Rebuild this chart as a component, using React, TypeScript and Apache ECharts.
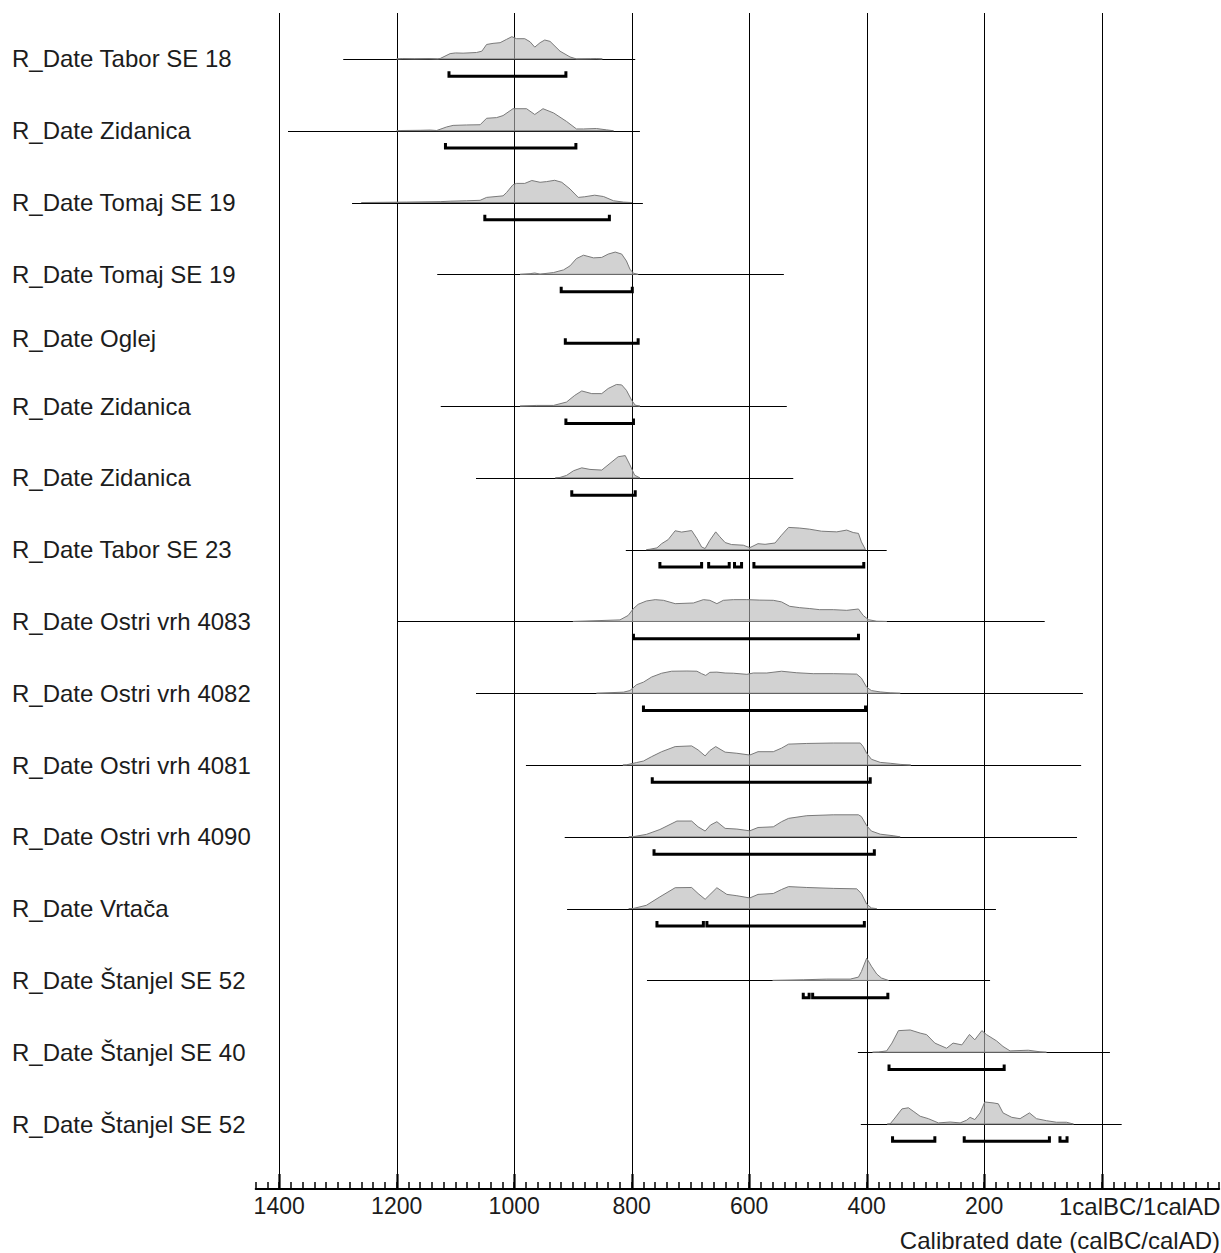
import React, { useEffect, useRef } from 'react';
import * as echarts from 'echarts';

// ---------- data (years: positive = calBC, negative = calAD) ----------
const rowLabels = [
  'R_Date Tabor SE 18',
  'R_Date Zidanica',
  'R_Date Tomaj SE 19',
  'R_Date Tomaj SE 19',
  'R_Date Oglej',
  'R_Date Zidanica',
  'R_Date Zidanica',
  'R_Date Tabor SE 23',
  'R_Date Ostri vrh 4083',
  'R_Date Ostri vrh 4082',
  'R_Date Ostri vrh 4081',
  'R_Date Ostri vrh 4090',
  'R_Date Vrtača',
  'R_Date Štanjel SE 52',
  'R_Date Štanjel SE 40',
  'R_Date Štanjel SE 52',
];

// extent of each row's horizontal base line [from, to]
const lineSpans: ([number, number] | null)[] = [
  [1291, 794], [1385, 786], [1276, 781], [1131, 541], null, [1125, 536], [1065, 525],
  [810, 366], [1199, 97], [1065, 32], [980, 35], [914, 42], [910, 180], [774, 190],
  [415, -14], [410, -34],
];

// 95.4% ranges (brackets) per row
const ranges: [number, number][][] = [
  [[1111, 912]],
  [[1117, 895]],
  [[1050, 838]],
  [[920, 799]],
  [[913, 789]],
  [[912, 797]],
  [[902, 794]],
  [[752, 681], [669, 634], [625, 613], [592, 405]],
  [[797, 414]],
  [[780, 402]],
  [[765, 394]],
  [[762, 387]],
  [[757, 678], [672, 404]],
  [[508, 498], [492, 364]],
  [[362, 166]],
  [[356, 284], [234, 89], [71, 59]],
];

// posterior probability curves: [year, relative height %]
const distTaborSE18 = [[1200,0],[1190,2],[1170,1],[1145,2],[1130,0],[1126,2],[1109,24],[1100,27],[1087,26],[1064,29],[1055,35],[1047,65],[1036,70],[1024,73],[1013,88],[1004,100],[996,91],[982,91],[973,77],[965,53],[956,73],[948,85],[939,79],[922,35],[905,9],[894,0],[870,1],[860,2],[850,0]];
const distZidanica1 = [[1200,0],[1194,1],[1160,2],[1143,3],[1132,1],[1115,17],[1104,24],[1081,26],[1058,27],[1047,56],[1030,59],[1019,68],[1002,99],[979,99],[965,73],[951,99],[933,80],[911,42],[894,8],[882,8],[860,10],[843,4],[831,0]];
const distTomaj1 = [[1260,0],[1183,2],[1126,4],[1109,6],[1081,8],[1058,10],[1047,23],[1019,30],[1013,45],[1002,80],[996,86],[982,86],[970,99],[956,91],[945,94],[931,100],[919,91],[905,61],[891,23],[880,26],[863,33],[848,27],[831,8],[814,2],[800,0]];
const distTomaj2 = [[990,0],[973,3],[965,6],[956,1],[933,8],[916,20],[905,38],[894,71],[882,86],[865,74],[851,76],[840,91],[828,100],[817,91],[809,60],[803,23],[797,5],[789,0]];
const distZidanica2 = [[990,0],[962,3],[933,3],[911,18],[897,48],[885,68],[868,56],[851,56],[840,79],[826,97],[817,95],[809,71],[800,26],[794,4],[786,0]];
const distZidanica3 = [[930,0],[922,2],[911,11],[899,32],[885,45],[871,38],[851,35],[837,65],[823,95],[811,100],[803,58],[795,12],[786,0]];
const distTaborSE23 = [[775,0],[769,2],[757,8],[749,27],[738,45],[726,85],[715,79],[698,86],[689,50],[681,12],[675,5],[667,42],[657,80],[650,58],[641,32],[630,23],[610,20],[599,9],[585,27],[573,24],[556,30],[545,65],[533,100],[514,97],[497,92],[477,83],[451,80],[434,88],[423,77],[414,73],[409,35],[402,0]];
const distOstri4083 = [[900,0],[854,4],[820,7],[806,27],[797,58],[789,77],[775,92],[760,98],[746,95],[726,80],[695,83],[678,98],[667,95],[655,80],[644,95],[627,98],[604,98],[582,96],[559,95],[545,88],[531,68],[514,62],[497,58],[480,53],[457,53],[434,50],[414,56],[406,27],[397,8],[383,1],[366,0]];
const distOstri4082 = [[860,0],[814,5],[803,12],[792,38],[780,50],[766,73],[749,90],[732,99],[706,100],[689,99],[681,88],[674,80],[667,94],[655,95],[641,91],[627,90],[604,85],[593,91],[570,91],[545,99],[519,92],[491,88],[457,88],[417,86],[409,68],[400,27],[392,12],[377,6],[360,2],[343,0]];
const distOstri4081 = [[815,0],[809,1],[792,11],[780,18],[766,38],[749,60],[726,83],[698,86],[687,68],[675,41],[667,65],[657,83],[641,58],[621,53],[599,45],[585,60],[559,60],[545,76],[533,94],[502,97],[457,99],[411,99],[406,83],[400,53],[392,26],[377,12],[360,8],[343,3],[325,0]];
const distOstri4090 = [[805,0],[797,1],[775,11],[752,33],[723,71],[698,71],[687,45],[675,26],[666,53],[655,68],[641,38],[621,35],[599,27],[585,42],[559,45],[545,68],[533,83],[502,95],[457,99],[414,99],[409,91],[400,50],[392,26],[377,12],[355,5],[343,0]];
const distVrtaca = [[805,0],[797,1],[775,15],[752,53],[726,94],[698,95],[687,68],[675,42],[655,94],[638,64],[621,58],[599,48],[585,64],[559,68],[545,86],[533,99],[502,95],[457,91],[417,89],[409,68],[400,20],[392,3],[383,0]];
const distStanjel52a = [[560,0],[508,3],[468,6],[428,6],[414,15],[409,40],[400,100],[392,64],[383,29],[375,11],[363,0]];
const distStanjel40 = [[390,0],[380,1],[366,6],[357,41],[346,97],[326,100],[309,86],[298,79],[284,41],[264,18],[253,41],[238,33],[225,80],[216,56],[204,97],[196,79],[179,51],[168,26],[156,6],[125,9],[105,2],[94,0]];
const distStanjel52b = [[365,0],[360,1],[352,27],[340,68],[329,73],[321,58],[309,35],[295,24],[278,5],[258,9],[241,5],[230,17],[224,30],[216,20],[207,50],[199,99],[185,95],[176,91],[168,50],[153,30],[139,24],[123,50],[111,24],[94,15],[77,8],[60,8],[48,0]];

const distributions: (number[][] | null)[] = [
  distTaborSE18, distZidanica1, distTomaj1, distTomaj2, null, distZidanica2, distZidanica3,
  distTaborSE23, distOstri4083, distOstri4082, distOstri4081, distOstri4090, distVrtaca,
  distStanjel52a, distStanjel40, distStanjel52b,
];

const majorTicks = [1400, 1200, 1000, 800, 600, 400, 200, 0];
const zeroLabel = '1calBC/1calAD';
const axisTitle = 'Calibrated date (calBC/calAD)';

// ---------- layout ----------
const FONT = "'Liberation Sans', Arial, Helvetica, sans-serif";
const TEXT_COLOR = '#1c1c1c';
const FIRST_BASE = 0.64; // row units
const DIST_H = 0.31; // row units for 100 %
const BRACKET_PX = 17.3;

function computeBaselines(): number[] {
  const out: number[] = [];
  let y = FIRST_BASE;
  distributions.forEach((d, i) => {
    if (i > 0) {
      const prevHas = distributions[i - 1] !== null;
      const has = d !== null;
      y += has && prevHas ? 1 : !has ? 0.72 : 1.115;
    }
    out.push(y);
  });
  return out;
}
const baselines = computeBaselines();

const crisp = (v: number) => Math.round(v) + 0.5;

function buildOption(): any {
  const lineData = lineSpans
    .map((s, i) => (s ? [i, s[0], s[1]] : null))
    .filter((v) => v !== null);
  const distData = distributions
    .map((d, i) => (d ? [i] : null))
    .filter((v) => v !== null);
  const bracketData: number[][] = [];
  ranges.forEach((rs, i) => rs.forEach((r) => bracketData.push([i, r[0], r[1]])));
  const labelData = rowLabels.map((_, i) => [i]);

  return {
    animation: false,
    backgroundColor: '#ffffff',
    grid: {
      left: 255.7,
      right: 1.8,
      top: 13,
      bottom: 64,
      containLabel: false,
      outerBoundsMode: 'none',
    },
    xAxis: {
      type: 'value',
      inverse: true,
      min: -200,
      max: 1440,
      interval: 20,
      axisLine: { show: true, onZero: false, lineStyle: { color: '#000', width: 2 } },
      axisTick: { show: true, inside: true, length: 7, lineStyle: { color: '#000', width: 1.5 } },
      axisLabel: {
        margin: 5,
        fontSize: 23,
        fontFamily: FONT,
        color: TEXT_COLOR,
        hideOverlap: false,
        formatter: (v: number) => {
          if (v === 0) return '{z|' + zeroLabel + '}';
          if (v > 0 && v % 200 === 0) return String(v);
          return '';
        },
        rich: {
          z: { padding: [0, 0, 0, 76], fontSize: 24, fontFamily: FONT, color: TEXT_COLOR },
        },
      },
      splitLine: { show: false },
    },
    yAxis: { type: 'value', inverse: true, min: 0, max: 16.38, show: false },
    graphic: [
      {
        type: 'text',
        right: 1,
        top: 1228,
        style: { text: axisTitle, fontSize: 24, fontFamily: FONT, fill: TEXT_COLOR },
      },
    ],
    series: [
      {
        type: 'custom',
        name: 'grid',
        z: 1,
        data: majorTicks.map((v) => [v]),
        renderItem: (params: any, api: any) => {
          const x = crisp(api.coord([api.value(0), 0])[0]);
          const top = params.coordSys.y;
          const bottom = top + params.coordSys.height;
          return {
            type: 'group',
            children: [
              { type: 'line', shape: { x1: x, y1: top, x2: x, y2: bottom }, style: { stroke: '#000', lineWidth: 1 } },
              { type: 'line', shape: { x1: x, y1: bottom - 15, x2: x, y2: bottom }, style: { stroke: '#000', lineWidth: 2.2 } },
            ],
          };
        },
      },
      {
        type: 'custom',
        name: 'baselines',
        z: 2,
        data: lineData,
        renderItem: (params: any, api: any) => {
          const i = api.value(0);
          const y = crisp(api.coord([0, baselines[i]])[1]);
          const x1 = api.coord([api.value(1), 0])[0];
          const x2 = api.coord([api.value(2), 0])[0];
          return { type: 'line', shape: { x1, y1: y, x2, y2: y }, style: { stroke: '#000', lineWidth: 1 } };
        },
      },
      {
        type: 'custom',
        name: 'distributions',
        z: 3,
        data: distData,
        renderItem: (params: any, api: any) => {
          const i = api.value(0);
          const d = distributions[i] as number[][];
          const base = baselines[i];
          const pts = d.map(([yr, p]) => api.coord([yr, base - (p / 100) * DIST_H]));
          return {
            type: 'polygon',
            shape: { points: pts },
            style: { fill: 'rgba(182,182,182,0.62)', stroke: '#7a7a7a', lineWidth: 1 },
          };
        },
      },
      {
        type: 'custom',
        name: 'ranges',
        z: 4,
        data: bracketData,
        renderItem: (params: any, api: any) => {
          const i = api.value(0);
          const y = api.coord([0, baselines[i]])[1] + BRACKET_PX;
          const x1 = api.coord([api.value(1), 0])[0];
          const x2 = api.coord([api.value(2), 0])[0];
          return {
            type: 'polyline',
            shape: { points: [[x1, y - 5], [x1, y], [x2, y], [x2, y - 5]] },
            style: { stroke: '#000', lineWidth: 3, fill: 'none', lineJoin: 'miter' },
          };
        },
      },
      {
        type: 'custom',
        name: 'labels',
        z: 5,
        data: labelData,
        renderItem: (params: any, api: any) => {
          const i = api.value(0);
          const has = distributions[i] !== null;
          const yv = has ? baselines[i] : baselines[i] + 0.18;
          const y = api.coord([0, yv])[1];
          return {
            type: 'text',
            x: 12,
            y,
            style: {
              text: rowLabels[i],
              fontSize: 24,
              fontFamily: FONT,
              fill: TEXT_COLOR,
              align: 'left',
              verticalAlign: 'middle',
            },
          };
        },
      },
    ],
  };
}

export default function App() {
  const ref = useRef<HTMLDivElement>(null);
  useEffect(() => {
    if (!ref.current) return;
    const chart = echarts.init(ref.current, null, { renderer: 'svg' });
    chart.setOption(buildOption());
    return () => chart.dispose();
  }, []);
  return (
    <div
      ref={ref}
      style={{ position: 'fixed', left: 0, top: 0, width: 1221, height: 1253, background: '#fff' }}
    />
  );
}
